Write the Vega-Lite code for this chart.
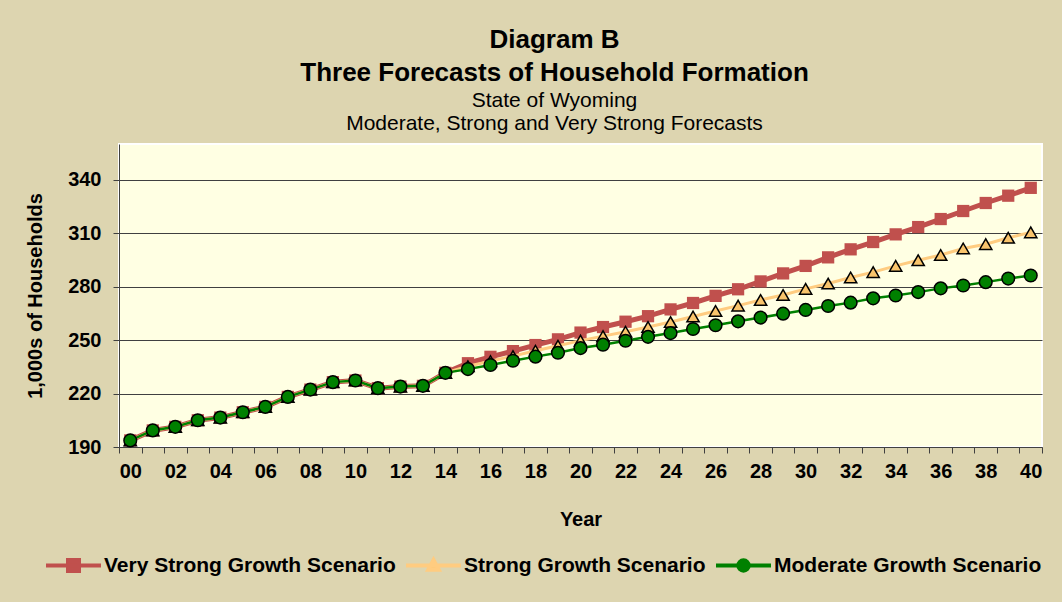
{
  "$schema": "https://vega.github.io/schema/vega-lite/v6.json",
  "width": 923,
  "height": 303,
  "autosize": {"type": "none"},
  "padding": {"left": 119, "top": 144, "right": 20, "bottom": 155},
  "background": "#DDD5B0",
  "title": {
    "text": ["Diagram B", "Three Forecasts of Household Formation"],
    "subtitle": ["State of Wyoming", "Moderate, Strong and Very Strong Forecasts"],
    "anchor": "middle",
    "frame": "group",
    "dx": -26,
    "offset": 10,
    "font": "Liberation Sans",
    "fontSize": 26,
    "fontWeight": "bold",
    "color": "#000000",
    "lineHeight": 33,
    "subtitleFont": "Liberation Sans",
    "subtitleFontSize": 21,
    "subtitleColor": "#000000",
    "subtitleLineHeight": 23,
    "subtitlePadding": 4
  },
  "config": {
    "view": {"fill": "#FFFFE3", "stroke": "#FFFFFF", "strokeWidth": 2},
    "axis": {
      "labelFont": "Liberation Sans",
      "labelFontSize": 20,
      "labelFontWeight": "bold",
      "labelColor": "#000000",
      "titleFont": "Liberation Sans",
      "titleFontSize": 20,
      "titleFontWeight": "bold",
      "titleColor": "#000000",
      "domainColor": "#404040",
      "tickColor": "#404040",
      "tickSize": 6
    },
    "legend": {
      "labelFont": "Liberation Sans",
      "labelFontSize": 21,
      "labelFontWeight": "bold",
      "labelColor": "#000000",
      "labelLimit": 0,
      "gridAlign": "none"
    }
  },
  "data": {
    "values": [
      {"year": "00", "veryStrong": 193.7, "strong": 193.7, "moderate": 193.7},
      {"year": "01", "veryStrong": 199.3, "strong": 199.3, "moderate": 199.3},
      {"year": "02", "veryStrong": 201.3, "strong": 201.3, "moderate": 201.3},
      {"year": "03", "veryStrong": 205.0, "strong": 205.0, "moderate": 205.0},
      {"year": "04", "veryStrong": 206.5, "strong": 206.5, "moderate": 206.5},
      {"year": "05", "veryStrong": 209.5, "strong": 209.5, "moderate": 209.5},
      {"year": "06", "veryStrong": 212.5, "strong": 212.5, "moderate": 212.5},
      {"year": "07", "veryStrong": 218.1, "strong": 218.1, "moderate": 218.1},
      {"year": "08", "veryStrong": 222.2, "strong": 222.2, "moderate": 222.2},
      {"year": "09", "veryStrong": 226.4, "strong": 226.4, "moderate": 226.4},
      {"year": "10", "veryStrong": 227.3, "strong": 227.3, "moderate": 227.3},
      {"year": "11", "veryStrong": 223.0, "strong": 223.0, "moderate": 223.0},
      {"year": "12", "veryStrong": 223.9, "strong": 223.9, "moderate": 223.9},
      {"year": "13", "veryStrong": 224.3, "strong": 224.3, "moderate": 224.3},
      {"year": "14", "veryStrong": 231.6, "strong": 231.6, "moderate": 231.6},
      {"year": "15", "veryStrong": 237.0, "strong": 235.3, "moderate": 233.7},
      {"year": "16", "veryStrong": 240.6, "strong": 238.2, "moderate": 236.0},
      {"year": "17", "veryStrong": 243.8, "strong": 241.0, "moderate": 238.4},
      {"year": "18", "veryStrong": 247.2, "strong": 244.0, "moderate": 240.7},
      {"year": "19", "veryStrong": 250.4, "strong": 246.8, "moderate": 242.9},
      {"year": "20", "veryStrong": 254.2, "strong": 249.7, "moderate": 245.5},
      {"year": "21", "veryStrong": 257.3, "strong": 252.2, "moderate": 247.4},
      {"year": "22", "veryStrong": 260.3, "strong": 254.7, "moderate": 249.6},
      {"year": "23", "veryStrong": 263.4, "strong": 257.3, "moderate": 251.8},
      {"year": "24", "veryStrong": 267.2, "strong": 260.1, "moderate": 253.9},
      {"year": "25", "veryStrong": 270.8, "strong": 263.2, "moderate": 256.2},
      {"year": "26", "veryStrong": 274.8, "strong": 266.3, "moderate": 258.3},
      {"year": "27", "veryStrong": 278.5, "strong": 269.3, "moderate": 260.5},
      {"year": "28", "veryStrong": 282.9, "strong": 272.5, "moderate": 262.6},
      {"year": "29", "veryStrong": 287.4, "strong": 275.3, "moderate": 264.8},
      {"year": "30", "veryStrong": 291.6, "strong": 278.7, "moderate": 266.9},
      {"year": "31", "veryStrong": 296.4, "strong": 281.7, "moderate": 269.1},
      {"year": "32", "veryStrong": 300.9, "strong": 285.1, "moderate": 271.0},
      {"year": "33", "veryStrong": 305.0, "strong": 288.1, "moderate": 273.4},
      {"year": "34", "veryStrong": 309.3, "strong": 291.6, "moderate": 275.0},
      {"year": "35", "veryStrong": 313.4, "strong": 294.8, "moderate": 276.9},
      {"year": "36", "veryStrong": 317.9, "strong": 297.7, "moderate": 279.0},
      {"year": "37", "veryStrong": 322.4, "strong": 301.4, "moderate": 280.6},
      {"year": "38", "veryStrong": 326.9, "strong": 303.8, "moderate": 282.5},
      {"year": "39", "veryStrong": 331.0, "strong": 307.4, "moderate": 284.5},
      {"year": "40", "veryStrong": 335.4, "strong": 310.4, "moderate": 286.2}
    ]
  },
  "encoding": {
    "x": {
      "field": "year",
      "type": "ordinal",
      "scale": {"type": "band", "paddingInner": 0, "paddingOuter": 0},
      "axis": {
        "title": "Year",
        "labelAngle": 0,
        "tickBand": "extent",
        "labelPadding": 8,
        "titlePadding": 28,
        "labelExpr": "parseInt(datum.value, 10) % 2 === 0 ? datum.label : ''"
      }
    }
  },
  "layer": [
    {
      "mark": {
        "type": "line",
        "color": "#C0504D",
        "strokeWidth": 5,
        "point": {"shape": "square", "size": 150, "filled": true, "fill": "#C0504D", "opacity": 1}
      },
      "encoding": {
        "y": {
          "field": "veryStrong",
          "type": "quantitative",
          "scale": {"domain": [190, 360], "nice": false, "zero": false},
          "axis": {
            "title": "1,000s of Households",
            "values": [190, 220, 250, 280, 310, 340],
            "grid": true,
            "gridColor": "#404040",
            "gridWidth": 1,
            "labelPadding": 12,
            "titlePadding": 22
          }
        }
      }
    },
    {
      "mark": {
        "type": "line",
        "color": "#FFCC80",
        "strokeWidth": 3,
        "point": {"shape": "triangle-up", "size": 150, "filled": true, "fill": "#F9C46C", "stroke": "#000000", "strokeWidth": 1.5, "opacity": 1}
      },
      "encoding": {
        "y": {"field": "strong", "type": "quantitative", "title": "1,000s of Households"}
      }
    },
    {
      "mark": {
        "type": "line",
        "color": "#008000",
        "strokeWidth": 2.5,
        "point": {"shape": "circle", "size": 160, "filled": true, "fill": "#008000", "stroke": "#000000", "strokeWidth": 1.5, "opacity": 1}
      },
      "encoding": {
        "y": {"field": "moderate", "type": "quantitative", "title": "1,000s of Households"}
      }
    },
    {
      "data": {
        "values": [
          {"series": "Very Strong Growth Scenario"},
          {"series": "Strong Growth Scenario"},
          {"series": "Moderate Growth Scenario"}
        ]
      },
      "transform": [{"filter": "false"}],
      "mark": {"type": "point", "filled": true, "opacity": 1, "strokeWidth": 4},
      "encoding": {
        "color": {
          "field": "series",
          "type": "nominal",
          "scale": {
            "domain": ["Very Strong Growth Scenario", "Strong Growth Scenario", "Moderate Growth Scenario"],
            "range": ["#C0504D", "#F9C46C", "#008000"]
          },
          "legend": {
            "title": null,
            "orient": "none",
            "direction": "horizontal",
            "legendX": -75,
            "legendY": 392,
            "symbolSize": 3025,
            "symbolStrokeWidth": 4,
            "labelOffset": 1,
            "columnPadding": 2,
            "labelLimit": 0,
            "gridAlign": "none"
          }
        },
        "stroke": {
          "field": "series",
          "type": "nominal",
          "scale": {
            "domain": ["Very Strong Growth Scenario", "Strong Growth Scenario", "Moderate Growth Scenario"],
            "range": ["#C0504D", "#FFCC80", "#008000"]
          },
          "legend": {
            "title": null,
            "orient": "none",
            "direction": "horizontal",
            "legendX": -75,
            "legendY": 392,
            "symbolSize": 3025,
            "symbolStrokeWidth": 4,
            "labelOffset": 1,
            "columnPadding": 2,
            "labelLimit": 0,
            "gridAlign": "none"
          }
        },
        "shape": {
          "field": "series",
          "type": "nominal",
          "scale": {
            "domain": ["Very Strong Growth Scenario", "Strong Growth Scenario", "Moderate Growth Scenario"],
            "range": [
              "M-1,0H1M-0.2,-0.2H0.2V0.2H-0.2Z",
              "M-1,0H1M0,-0.2L0.19,0.15H-0.19Z",
              "M-1,0H1M0.19,0A0.19,0.19 0 1,1 -0.19,0A0.19,0.19 0 1,1 0.19,0Z"
            ]
          },
          "legend": {
            "title": null,
            "orient": "none",
            "direction": "horizontal",
            "legendX": -75,
            "legendY": 392,
            "symbolSize": 3025,
            "symbolStrokeWidth": 4,
            "labelOffset": 1,
            "columnPadding": 2,
            "labelLimit": 0,
            "gridAlign": "none"
          }
        }
      }
    }
  ]
}
